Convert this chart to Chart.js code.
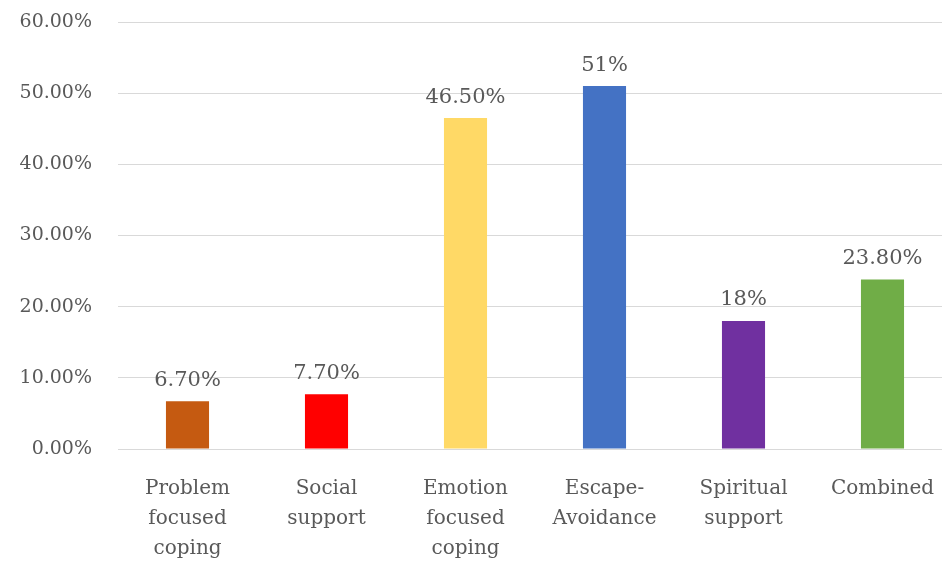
<!DOCTYPE html>
<html>
<head>
<meta charset="utf-8">
<script src="https://cdn.jsdelivr.net/npm/chart.js@4"></script>
<style>
  html, body { margin: 0; padding: 0; background: #fff; overflow: hidden; }
  /* the plot runs a little past the right edge, as in the source image */
  #wrap { width: 942px; height: 561px; overflow: hidden; }
</style>
</head>
<body>
<div id="wrap"><canvas id="chart" width="952" height="561"></canvas></div>
<script>
// chart data
const categories = [
  ["Problem", "focused", "coping"],
  ["Social", "support"],
  ["Emotion", "focused", "coping"],
  ["Escape-", "Avoidance"],
  ["Spiritual", "support"],
  ["Combined"]
];
const values = [6.7, 7.7, 46.5, 51, 18, 23.8];
const valueLabels = ["6.70%", "7.70%", "46.50%", "51%", "18%", "23.80%"];
const barColors = ["#C55A11", "#FF0000", "#FFD966", "#4472C4", "#7030A0", "#70AD47"];

const textColor = "#595959";
const fontFamily = "'DejaVu Serif', serif";

// draws the value above each bar
const valueLabelPlugin = {
  id: "valueLabels",
  afterDatasetsDraw(chart) {
    const ctx = chart.ctx;
    const meta = chart.getDatasetMeta(0);
    ctx.save();
    ctx.fillStyle = textColor;
    ctx.font = "21px " + fontFamily;
    ctx.textAlign = "center";
    ctx.textBaseline = "middle";
    meta.data.forEach((bar, i) => {
      ctx.fillText(valueLabels[i], bar.x, bar.y - 21);
    });
    ctx.restore();
  }
};

new Chart(document.getElementById("chart").getContext("2d"), {
  type: "bar",
  data: {
    labels: categories,
    datasets: [{
      data: values,
      backgroundColor: barColors,
      borderWidth: 0,
      categoryPercentage: 1,
      barPercentage: 0.31
    }]
  },
  options: {
    responsive: false,
    animation: false,
    events: [],
    layout: { padding: { top: 22, right: 0, left: 0, bottom: 0 } },
    plugins: {
      legend: { display: false },
      title: { display: false },
      tooltip: { enabled: false }
    },
    scales: {
      x: {
        grid: { display: false, drawTicks: false },
        border: { display: false },
        ticks: {
          color: textColor,
          font: { family: fontFamily, size: 20, lineHeight: 1.5 },
          padding: 25,
          maxRotation: 0,
          autoSkip: false
        },
        afterFit(scale) {
          scale.height = 112;
          scale.paddingRight = 0;
          scale.paddingLeft = 0;
        }
      },
      y: {
        min: 0,
        max: 60,
        grid: { color: "#d9d9d9", lineWidth: 1, drawTicks: false },
        border: { display: false },
        ticks: {
          stepSize: 10,
          color: textColor,
          font: { family: fontFamily, size: 19 },
          padding: 26,
          callback: v => v.toFixed(2) + "%"
        },
        afterFit(scale) {
          scale.width = 118;
          scale.paddingTop = 0;
          scale.paddingBottom = 0;
        }
      }
    }
  },
  plugins: [valueLabelPlugin]
});
</script>
</body>
</html>
